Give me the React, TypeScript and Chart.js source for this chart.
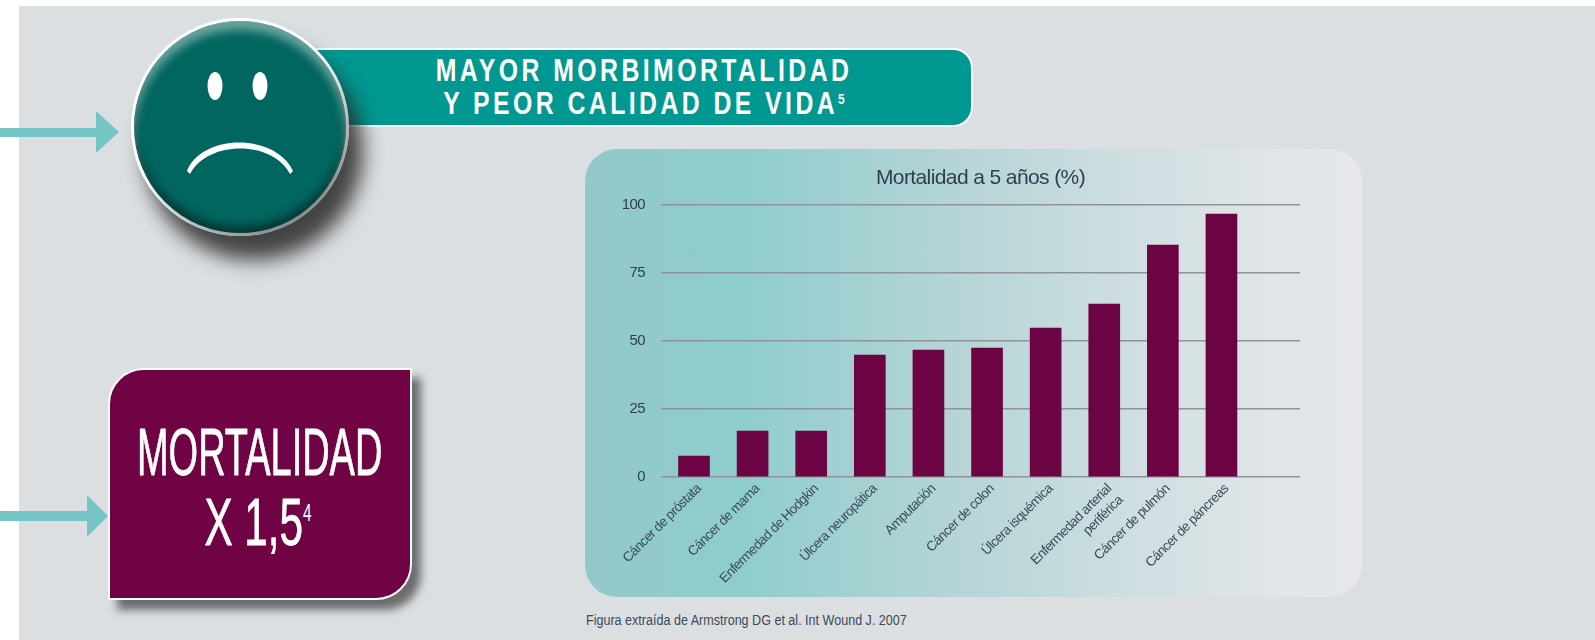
import React, { useEffect, useRef } from "react";
import { Chart, registerables } from "chart.js";

Chart.register(...registerables);

const categories: (string | string[])[] = [
  "Cáncer de próstata",
  "Cáncer de mama",
  "Enfermedad de Hodgkin",
  "Úlcera neuropática",
  "Amputación",
  "Cáncer de colon",
  "Úlcera isquémica",
  ["Enfermedad arterial", "periférica"],
  "Cáncer de pulmón",
  "Cáncer de páncreas",
];
const mortality = [7.7, 16.9, 16.9, 44.9, 46.7, 47.4, 54.8, 63.6, 85.3, 96.7];
const yTicks = [0, 25, 50, 75, 100];
const chartTitle = "Mortalidad a 5 años (%)";

const SANS = '"Liberation Sans", sans-serif';
const INK = "#2e3f4f";

const abs = (s: React.CSSProperties): React.CSSProperties => ({ position: "absolute", ...s });

// No condensed face is installed: tighten the canvas text to approach the original's narrow type.
const tightText = {
  id: "tightText",
  beforeDraw: (chart: any) => {
    chart.ctx.letterSpacing = "-0.6px";
  },
};

function Narrow({ left, top, width, scale, size, height, bold, children, style }: any) {
  return (
    <div
      style={abs({
        left,
        top,
        width,
        height,
        lineHeight: height + "px",
        fontSize: size,
        fontWeight: bold ? "bold" : "normal",
        textAlign: "center",
        whiteSpace: "nowrap",
        color: "#fff",
        transform: `scaleX(${scale})`,
        transformOrigin: "center",
        ...style,
      })}
    >
      {children}
    </div>
  );
}

export default function App() {
  const ref = useRef<HTMLCanvasElement>(null);

  useEffect(() => {
    const chart = new Chart(ref.current!, {
      type: "bar",
      plugins: [tightText],
      data: {
        datasets: [
          {
            data: mortality.map((v, i) => ({ x: i, y: v })),
            backgroundColor: "#6c0342",
            barThickness: 31,
          },
        ],
      },
      options: {
        responsive: false,
        animation: false,
        layout: { padding: { left: 613, right: 295, top: 166, bottom: 0 } },
        plugins: {
          legend: { display: false },
          tooltip: { enabled: false },
          title: {
            display: true,
            text: chartTitle,
            color: INK,
            fullSize: false,
            font: { family: SANS, size: 21, weight: "normal", lineHeight: 1.2 },
            padding: { top: 0, bottom: 14 },
          },
        },
        scales: {
          x: {
            type: "linear",
            bounds: "data",
            offset: false,
            min: -0.563,
            max: 10.34,
            grid: { display: false, drawTicks: false, offset: false },
            border: { display: false },
            afterFit: (s: any) => {
              s.height = 163;
            },
            afterBuildTicks: (s: any) => {
              s.ticks = categories.map((_, value) => ({ value }));
            },
            ticks: {
              autoSkip: false,
              maxRotation: 45,
              minRotation: 45,
              padding: 4,
              labelOffset: 5,
              color: "#3a4a58",
              font: { family: SANS, size: 13.5 },
              callback: (v: any) => categories[v],
            },
          },
          y: {
            min: 0,
            max: 100,
            afterFit: (s: any) => {
              s.width = 48;
            },
            afterBuildTicks: (s: any) => {
              s.ticks = yTicks.map((value) => ({ value }));
            },
            grid: { color: "#8e9499", lineWidth: 1.5, drawTicks: false },
            border: { display: false },
            ticks: {
              padding: 16,
              color: INK,
              font: { family: SANS, size: 15 },
            },
          },
        },
      },
    } as any);
    return () => chart.destroy();
  }, []);

  return (
    <div style={abs({ left: 0, top: 0, width: 1595, height: 640, overflow: "hidden", background: "#fff", fontFamily: SANS })}>
      <div style={abs({ left: 19, top: 6, width: 1576, height: 634, background: "#dcdfe2" })} />

      {/* arrows */}
      <svg width={1595} height={640} style={abs({ left: 0, top: 0 })}>
        <polygon points="0,128 96,128 96,111 119,132 96,153 96,137 0,137" fill="#74c5c4" />
        <polygon points="0,511 87,511 87,495 108,516 87,537 87,521 0,521" fill="#74c5c4" />
      </svg>

      {/* banner */}
      <div
        style={abs({
          left: 290,
          top: 48,
          width: 683,
          height: 79,
          boxSizing: "border-box",
          background: "#009891",
          border: "2px solid #fff",
          borderRadius: "0 20px 20px 0",
        })}
      />
      <Narrow left={344} top={55} width={600} height={32} size={31} scale={0.8} bold style={{ letterSpacing: 4.3 }}>
        MAYOR MORBIMORTALIDAD
      </Narrow>
      <Narrow left={344} top={88} width={600} height={32} size={31} scale={0.8} bold style={{ letterSpacing: 4.3 }}>
        Y PEOR CALIDAD DE VIDA
        <span style={{ fontSize: 15, position: "relative", top: -10, letterSpacing: 0 }}>5</span>
      </Narrow>

      {/* face */}
      <div
        style={abs({
          left: 131,
          top: 18,
          width: 218,
          height: 218,
          borderRadius: "50%",
          background: "linear-gradient(145deg, #ffffff 45%, #8a8f90 85%)",
          boxShadow: "14px 24px 20px rgba(40,40,40,.85)",
        })}
      />
      <div
        style={abs({
          left: 134,
          top: 21,
          width: 212,
          height: 212,
          borderRadius: "50%",
          background: "#00665f",
          boxShadow: "inset 0 9px 10px rgba(255,255,255,.42), inset 0 -7px 8px rgba(0,0,0,.45)",
        })}
      />
      <svg width={1595} height={640} style={abs({ left: 0, top: 0 })}>
        <ellipse cx={215} cy={86} rx={7.5} ry={14} fill="#fff" />
        <ellipse cx={260} cy={86} rx={7.5} ry={14} fill="#fff" />
        <path d="M187,171 C202,133 276,133 293,171 L290,174 C272,140 208,140 190,174 Z" fill="#fff" />
      </svg>

      {/* purple box */}
      <div
        style={abs({
          left: 108,
          top: 368,
          width: 304,
          height: 232,
          boxSizing: "border-box",
          background: "#6f0344",
          border: "2px solid #fff",
          borderRadius: "36px 0 36px 0",
          boxShadow: "9px 10px 9px rgba(70,70,70,.75)",
        })}
      />
      <Narrow left={52} top={414} width={400} height={76} size={66} scale={0.575} style={{ WebkitTextStroke: "0.8px #fff" }}>
        MORTALIDAD
      </Narrow>
      <Narrow left={58} top={484} width={400} height={76} size={66} scale={0.64} style={{ WebkitTextStroke: "0.8px #fff" }}>
        X 1,5<span style={{ fontSize: 24, position: "relative", top: -24, WebkitTextStroke: "0" }}>4</span>
      </Narrow>

      {/* chart panel */}
      <div
        style={abs({
          left: 585,
          top: 149,
          width: 777,
          height: 448,
          borderRadius: 32,
          background: "linear-gradient(90deg, #93c8ca 0%, #8fcdcd 20%, #b8d5d7 50%, #d0dfe2 72%, #e0e5e7 88%, #e6e8eb 100%)",
        })}
      />
      <div
        style={abs({
          left: 586,
          top: 611,
          fontSize: 15.5,
          lineHeight: "18px",
          color: "#3a4a58",
          whiteSpace: "nowrap",
          transform: "scaleX(0.81)",
          transformOrigin: "left",
        })}
      >
        Figura extraída de Armstrong DG et al. Int Wound J. 2007
      </div>
      <canvas ref={ref} width={1595} height={640} style={abs({ left: 0, top: 0, display: "block" })} />
    </div>
  );
}
